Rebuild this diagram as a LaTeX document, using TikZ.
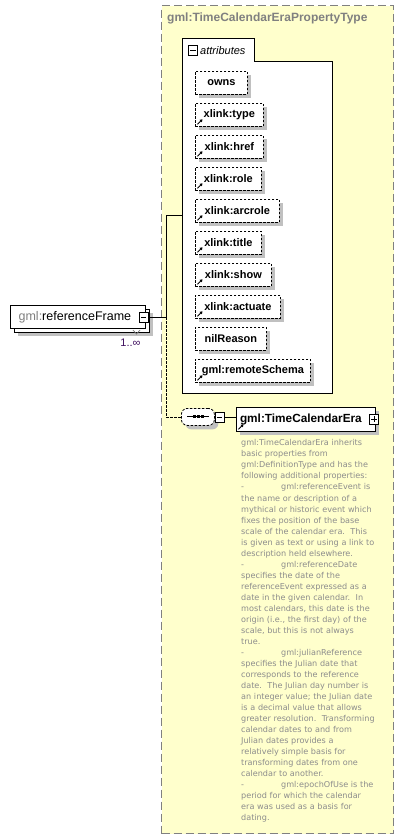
\documentclass[tikz,border=0pt]{standalone}
\usepackage{fontspec}
\setmainfont{Liberation Sans}
\newfontfamily\descfont{DejaVu Sans}
\usetikzlibrary{shadows,arrows.meta}
\definecolor{ylw}{RGB}{255,255,204}
\definecolor{shd}{RGB}{192,192,192}
\definecolor{gtxt}{RGB}{128,128,128}
\definecolor{dtxt}{RGB}{140,140,140}
\definecolor{mult}{RGB}{64,16,96}
\begin{document}
\begin{tikzpicture}[x=1pt,y=-1pt,
  shd4/.style={drop shadow={shadow xshift=4pt, shadow yshift=-4pt, fill=shd, opacity=1}},
  attrbox/.style={draw=black, line width=0.8pt, dash pattern=on 2.5pt off 1.5pt, fill=white,
    anchor=north west, minimum height=23, inner sep=0, font=\bfseries\fontsize{11}{12}\selectfont, shd4},
  elbox/.style={draw=black, line width=0.8pt, fill=white, anchor=north west, inner sep=0},
  minusbox/.style={draw=black, line width=0.8pt, fill=white, minimum width=9, minimum height=10, inner sep=0,
    path picture={\draw[line width=0.9pt] ([xshift=1.8pt]path picture bounding box.west) -- ([xshift=-1.8pt]path picture bounding box.east);}},
  conn/.style={draw=black, line width=0.8pt},
  lnk/.pic={\draw[line width=0.9pt,-{Triangle[length=2.6pt,width=3.2pt]}] (2.5,-2.5) -- (7.5,-7.5);}
]
\useasboundingbox (0,0) rectangle (404,839);
\fill[white] (0,0) rectangle (404,839);

% complex type container
\node[draw=gtxt, line width=1pt, dash pattern=on 8pt off 4pt, fill=ylw, anchor=north west,
  minimum width=232, minimum height=828, inner sep=0] (ctype) at (161,5) {};
\node[anchor=west, inner sep=0, text=gtxt, font=\bfseries\fontsize{12}{14}\selectfont] (title) at (167,18) {gml:TimeCalendarEraPropertyType};

% attributes group
\node[anchor=north west, minimum width=150, minimum height=355, inner sep=0] (attrs) at (182,38) {};
\draw[line width=0.8pt, fill=white] (182,393) -- (182,38) -- (254,38) -- (254,61) -- (332,61) -- (332,393) -- cycle;
\node[minusbox, anchor=north west] (attrm) at (188,45) {};
\node[anchor=west, inner sep=0, font=\itshape\fontsize{11}{13}\selectfont] (attrl) at (200,50.5) {attributes};

\node[attrbox, minimum width=52] (a1) at (195,71) {owns};
\node[attrbox, minimum width=68] (a2) at (195,103) {xlink:type};
\node[attrbox, minimum width=68] (a3) at (195,135) {xlink:href};
\node[attrbox, minimum width=66] (a4) at (195,167) {xlink:role};
\node[attrbox, minimum width=84] (a5) at (195,199) {xlink:arcrole};
\node[attrbox, minimum width=66] (a6) at (195,231) {xlink:title};
\node[attrbox, minimum width=76] (a7) at (195,263) {xlink:show};
\node[attrbox, minimum width=85] (a8) at (195,295) {xlink:actuate};
\node[attrbox, minimum width=71] (a9) at (195,327) {nilReason};
\node[attrbox, minimum width=115] (a10) at (195,359) {gml:remoteSchema};
\foreach \n in {a2,a3,a4,a5,a6,a7,a8,a10} { \pic at (\n.south west) {lnk}; }

% referenceFrame element
\node[elbox, minimum width=135, minimum height=23, shd4] (rfback) at (14,309) {};
\node[elbox, minimum width=135, minimum height=23, font=\fontsize{12.5}{14}\selectfont] (rf) at (10,305)
  {\hspace*{-6pt}\textcolor{gtxt}{gml:}referenceFrame};
\node[minusbox] (rfm) at (143.5,317) {};
\draw[gtxt, line width=0.7pt] (133,330) -- (136.5,334) -- (140,330);
\node[anchor=center, inner sep=0, text=mult, font=\fontsize{11}{12}\selectfont] (mlt) at (130.5,343) {1..\char"221E};

% sequence compositor
\node[draw=black, line width=0.8pt, dash pattern=on 2.5pt off 1.5pt, fill=white, rounded corners=6pt,
  minimum width=33, minimum height=17, inner sep=0, anchor=north west, shd4] (seq) at (181,408) {};
\draw[line width=0.9pt] (187,416.5) -- (209,416.5);
\foreach \xx in {194.5,198.5,202.5} { \fill (\xx-1.3,415.2) rectangle (\xx+1.3,417.8); }
\node[minusbox] (seqm) at (219.5,417) {};

% TimeCalendarEra element
\node[elbox, minimum width=139, minimum height=24, shd4, font=\bfseries\fontsize{11.8}{13}\selectfont] (tce) at (236,407)
  {\hspace*{-10pt}gml:TimeCalendarEra};
\node[minusbox, path picture={\draw[line width=0.9pt] ([xshift=1.8pt]path picture bounding box.west) -- ([xshift=-1.8pt]path picture bounding box.east);
  \draw[line width=0.9pt] ([yshift=-1.8pt]path picture bounding box.north) -- ([yshift=1.8pt]path picture bounding box.south);}] (tcep) at (374,419) {};
\pic at (tce.south west) {lnk};

% connectors
\coordinate (j1) at (166,317);
\draw[conn] (rfm.east) -- (j1) -- (j1 |- attrs.west) -- (attrs.west);
\draw[conn, dash pattern=on 2.5pt off 1.5pt] (j1) -- (j1 |- seq.west) -- (seq.west);
\draw[conn] (seqm.east) -- (seqm.east -| tce.west);

% documentation
\node[anchor=north west, inner sep=0, text=dtxt, text width=160, align=left,
  font=\descfont\fontsize{8.1}{11.03}\selectfont] (doc) at (241,439.5) {%
gml:TimeCalendarEra inherits\\
basic properties from\\
gml:DefinitionType and has the\\
following additional properties:\\
\makebox[40pt][l]{-}gml:referenceEvent is\\
the name or description of a\\
mythical or historic event which\\
fixes the position of the base\\
scale of the calendar era.\ \ This\\
is given as text or using a link to\\
description held elsewhere.\\
\makebox[40pt][l]{-}gml:referenceDate\\
specifies the date of the\\
referenceEvent expressed as a\\
date in the given calendar.\ \ In\\
most calendars, this date is the\\
origin (i.e., the first day) of the\\
scale, but this is not always\\
true.\\
\makebox[40pt][l]{-}gml:julianReference\\
specifies the Julian date that\\
corresponds to the reference\\
date.\ \ The Julian day number is\\
an integer value; the Julian date\\
is a decimal value that allows\\
greater resolution.\ \ Transforming\\
calendar dates to and from\\
Julian dates provides a\\
relatively simple basis for\\
transforming dates from one\\
calendar to another.\\
\makebox[40pt][l]{-}gml:epochOfUse is the\\
period for which the calendar\\
era was used as a basis for\\
dating.};
\end{tikzpicture}
\end{document}
